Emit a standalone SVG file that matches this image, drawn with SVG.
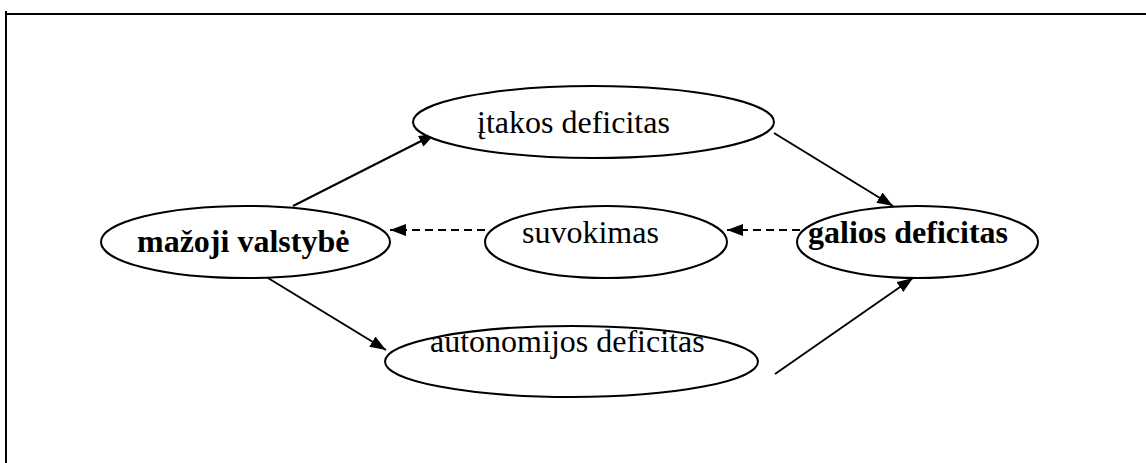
<svg xmlns="http://www.w3.org/2000/svg" width="1146" height="463" viewBox="0 0 1146 463">
  <defs>
    <marker id="arr" markerWidth="16" markerHeight="12" refX="16" refY="6" orient="auto" markerUnits="userSpaceOnUse">
      <path d="M0,0 L16,6 L0,12 Z" fill="#000"/>
    </marker>
  </defs>
  <style>
    .node ellipse { fill: #fff; stroke: #000; stroke-width: 2; }
    .lbl { font-family: "Liberation Serif", "Times New Roman", serif; font-size: 32px; fill: #000; }
    .b { font-weight: bold; }
    .edge { stroke: #000; stroke-width: 2; fill: none; marker-end: url(#arr); }
    .dash { stroke-dasharray: 8 5; }
  </style>
  <rect width="1146" height="463" fill="#fff"/>
  <g id="frame" stroke="#000" stroke-width="2">
    <line x1="6" y1="14" x2="1146" y2="14"/>
    <line x1="6" y1="11" x2="6" y2="463"/>
  </g>
  <g id="connectors">
    <line class="edge" x1="293" y1="206" x2="435" y2="134"/>
    <line class="edge" x1="774" y1="133" x2="893" y2="206"/>
    <line class="edge" x1="268" y1="278" x2="386" y2="350"/>
    <line class="edge" x1="775" y1="374" x2="913" y2="278"/>
    <line class="edge dash" x1="800" y1="230" x2="727" y2="230"/>
    <line class="edge dash" x1="485" y1="230" x2="390" y2="230"/>
  </g>
  <g id="n-itakos" class="node">
    <ellipse cx="593.5" cy="122" rx="180.5" ry="36"/>
    <text class="lbl" x="477" y="133">įtakos deficitas</text>
  </g>
  <g id="n-mazoji" class="node">
    <ellipse cx="245.5" cy="242" rx="144.5" ry="36"/>
    <text class="lbl b" x="137" y="252">mažoji valstybė</text>
  </g>
  <g id="n-suvokimas" class="node">
    <ellipse cx="606" cy="242" rx="121" ry="36"/>
    <text class="lbl" x="522" y="243">suvokimas</text>
  </g>
  <g id="n-galios" class="node">
    <ellipse cx="917.5" cy="242" rx="120.5" ry="36"/>
    <text class="lbl b" x="808" y="243">galios deficitas</text>
  </g>
  <g id="n-autonomijos" class="node">
    <ellipse cx="571.5" cy="361.5" rx="186.5" ry="35.5"/>
    <text class="lbl" x="430" y="352">autonomijos deficitas</text>
  </g>
</svg>
